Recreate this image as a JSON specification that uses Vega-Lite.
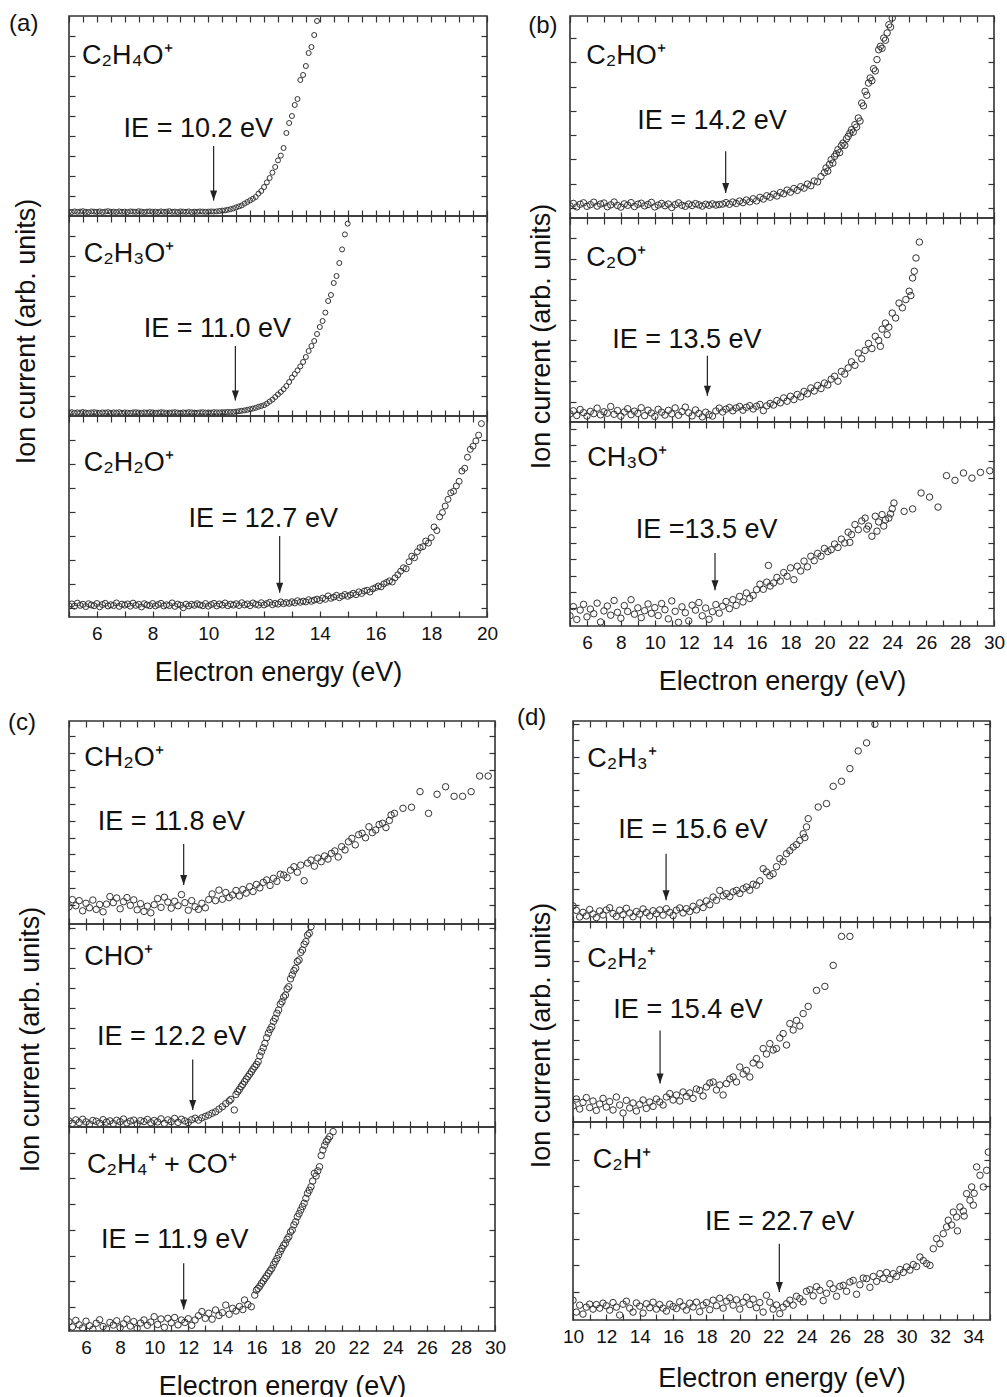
{
"$schema":"https://vega.github.io/schema/vega-lite/v6.json",
"padding":{"left":7,"top":11,"right":0,"bottom":0},
"config":{"font":"Liberation Sans","view":{"stroke":"#333333","strokeWidth":1.6},
"axis":{"domain":false,"grid":false,"ticks":true,"tickColor":"#333333","tickWidth":1.2,"tickSize":-6,"labels":false,"labelFont":"Liberation Sans","labelFontSize":19,"labelColor":"#111111","labelFlush":false,"labelOverlap":false,"labelBound":false,"labelPadding":13,"titleFont":"Liberation Sans","titleFontSize":27,"titleFontWeight":"normal","titleColor":"#111111"}},
"datasets":{
"a1":[{"x":5,"y":2.2},{"x":5.1,"y":2},{"x":5.2,"y":2.3},{"x":5.3,"y":2.1},{"x":5.4,"y":2.2},{"x":5.5,"y":2.4},{"x":5.6,"y":2.1},{"x":5.7,"y":2},{"x":5.8,"y":2.3},{"x":5.9,"y":2.2},{"x":6,"y":2.1},{"x":6.1,"y":2.3},{"x":6.2,"y":2},{"x":6.3,"y":2.2},{"x":6.4,"y":2.4},{"x":6.5,"y":2.1},{"x":6.6,"y":2.2},{"x":6.7,"y":2},{"x":6.8,"y":2.3},{"x":6.9,"y":2.1},{"x":7,"y":2.2},{"x":7.1,"y":2},{"x":7.2,"y":2.3},{"x":7.3,"y":2.2},{"x":7.4,"y":2.1},{"x":7.5,"y":2.4},{"x":7.6,"y":2.2},{"x":7.7,"y":2},{"x":7.8,"y":2.2},{"x":7.9,"y":2.3},{"x":8,"y":2.1},{"x":8.1,"y":2.2},{"x":8.2,"y":2},{"x":8.3,"y":2.3},{"x":8.4,"y":2.1},{"x":8.5,"y":2.2},{"x":8.6,"y":2.4},{"x":8.7,"y":2.1},{"x":8.8,"y":2.2},{"x":8.9,"y":2},{"x":9,"y":2.3},{"x":9.1,"y":2.2},{"x":9.2,"y":2.1},{"x":9.3,"y":2.3},{"x":9.4,"y":2},{"x":9.5,"y":2.2},{"x":9.6,"y":2.1},{"x":9.7,"y":2.3},{"x":9.8,"y":2.2},{"x":9.9,"y":2.1},{"x":10,"y":2.2},{"x":10.1,"y":2.3},{"x":10.2,"y":2.2},{"x":10.3,"y":2.3},{"x":10.4,"y":2.5},{"x":10.5,"y":2.7},{"x":10.6,"y":2.8},{"x":10.7,"y":3.1},{"x":10.8,"y":3.4},{"x":10.9,"y":3.8},{"x":11,"y":4.3},{"x":11.1,"y":4.8},{"x":11.2,"y":5.3},{"x":11.3,"y":6.2},{"x":11.4,"y":7},{"x":11.5,"y":7.8},{"x":11.6,"y":8.6},{"x":11.7,"y":9.5},{"x":11.8,"y":11.2},{"x":11.9,"y":12.5},{"x":12,"y":14.5},{"x":12.1,"y":16.8},{"x":12.2,"y":19},{"x":12.3,"y":21.7},{"x":12.4,"y":24.5},{"x":12.5,"y":27.8},{"x":12.6,"y":30.2},{"x":12.7,"y":34},{"x":12.8,"y":41.5},{"x":12.9,"y":46.5},{"x":13,"y":50},{"x":13.1,"y":55.5},{"x":13.2,"y":58.5},{"x":13.3,"y":68},{"x":13.4,"y":70.5},{"x":13.5,"y":75},{"x":13.6,"y":81.5},{"x":13.7,"y":84.5},{"x":13.8,"y":90.5},{"x":13.9,"y":97.5}],
"a2":[{"x":5,"y":1.7},{"x":5.1,"y":1.9},{"x":5.2,"y":1.6},{"x":5.3,"y":1.8},{"x":5.4,"y":1.7},{"x":5.5,"y":2},{"x":5.6,"y":1.7},{"x":5.7,"y":1.6},{"x":5.8,"y":1.8},{"x":5.9,"y":1.9},{"x":6,"y":1.7},{"x":6.1,"y":1.6},{"x":6.2,"y":1.8},{"x":6.3,"y":1.7},{"x":6.4,"y":1.9},{"x":6.5,"y":1.6},{"x":6.6,"y":1.8},{"x":6.7,"y":1.7},{"x":6.8,"y":1.9},{"x":6.9,"y":1.6},{"x":7,"y":1.8},{"x":7.1,"y":1.7},{"x":7.2,"y":1.6},{"x":7.3,"y":1.8},{"x":7.4,"y":1.9},{"x":7.5,"y":1.7},{"x":7.6,"y":1.6},{"x":7.7,"y":1.8},{"x":7.8,"y":1.7},{"x":7.9,"y":1.9},{"x":8,"y":1.8},{"x":8.1,"y":1.6},{"x":8.2,"y":1.7},{"x":8.3,"y":1.9},{"x":8.4,"y":1.8},{"x":8.5,"y":1.6},{"x":8.6,"y":1.7},{"x":8.7,"y":1.8},{"x":8.8,"y":1.9},{"x":8.9,"y":1.7},{"x":9,"y":1.6},{"x":9.1,"y":1.8},{"x":9.2,"y":1.7},{"x":9.3,"y":1.9},{"x":9.4,"y":1.8},{"x":9.5,"y":1.7},{"x":9.6,"y":1.6},{"x":9.7,"y":1.8},{"x":9.8,"y":1.9},{"x":9.9,"y":1.7},{"x":10,"y":1.8},{"x":10.1,"y":1.7},{"x":10.2,"y":1.9},{"x":10.3,"y":1.8},{"x":10.4,"y":1.8},{"x":10.5,"y":1.9},{"x":10.6,"y":1.9},{"x":10.7,"y":2},{"x":10.8,"y":2},{"x":10.9,"y":2},{"x":11,"y":2.2},{"x":11.1,"y":2.4},{"x":11.2,"y":2.6},{"x":11.3,"y":2.8},{"x":11.4,"y":3.1},{"x":11.5,"y":3.4},{"x":11.6,"y":3.7},{"x":11.7,"y":4.1},{"x":11.8,"y":4.6},{"x":11.9,"y":5},{"x":12,"y":5.4},{"x":12.1,"y":6.2},{"x":12.2,"y":7.2},{"x":12.3,"y":8.2},{"x":12.4,"y":9.5},{"x":12.5,"y":10.8},{"x":12.6,"y":12},{"x":12.7,"y":13.4},{"x":12.8,"y":15},{"x":12.9,"y":17},{"x":13,"y":19.2},{"x":13.1,"y":21},{"x":13.2,"y":22.8},{"x":13.3,"y":24.8},{"x":13.4,"y":27},{"x":13.5,"y":29.5},{"x":13.6,"y":32.5},{"x":13.7,"y":35},{"x":13.8,"y":37.5},{"x":13.9,"y":41},{"x":14,"y":44.5},{"x":14.1,"y":47.5},{"x":14.2,"y":51.7},{"x":14.3,"y":57.5},{"x":14.4,"y":60.5},{"x":14.5,"y":66.5},{"x":14.6,"y":70},{"x":14.7,"y":76.5},{"x":14.8,"y":83.3},{"x":14.9,"y":90.8},{"x":15,"y":96.2}],
"a3":[{"x":5,"y":5.6},{"x":5.1,"y":6.5},{"x":5.2,"y":5.4},{"x":5.3,"y":6.9},{"x":5.4,"y":5.8},{"x":5.5,"y":6.3},{"x":5.6,"y":5.2},{"x":5.7,"y":6.6},{"x":5.8,"y":6},{"x":5.9,"y":5.6},{"x":6,"y":6.7},{"x":6.1,"y":5.1},{"x":6.2,"y":6.2},{"x":6.3,"y":6.8},{"x":6.4,"y":5.5},{"x":6.5,"y":6.1},{"x":6.6,"y":5.7},{"x":6.7,"y":7},{"x":6.8,"y":5.3},{"x":6.9,"y":6.4},{"x":7,"y":5.9},{"x":7.1,"y":6.5},{"x":7.2,"y":5.4},{"x":7.3,"y":6.9},{"x":7.4,"y":5.8},{"x":7.5,"y":6.3},{"x":7.6,"y":5},{"x":7.7,"y":6.6},{"x":7.8,"y":6},{"x":7.9,"y":5.6},{"x":8,"y":6.7},{"x":8.1,"y":5.5},{"x":8.2,"y":6.2},{"x":8.3,"y":6.8},{"x":8.4,"y":5.5},{"x":8.5,"y":6.1},{"x":8.6,"y":5.7},{"x":8.7,"y":7},{"x":8.8,"y":5.3},{"x":8.9,"y":6.4},{"x":9,"y":5.9},{"x":9.1,"y":4.6},{"x":9.2,"y":6.4},{"x":9.3,"y":5.5},{"x":9.4,"y":6.3},{"x":9.5,"y":5.8},{"x":9.6,"y":6.6},{"x":9.7,"y":6},{"x":9.8,"y":5.6},{"x":9.9,"y":6.7},{"x":10,"y":5.4},{"x":10.1,"y":6.2},{"x":10.2,"y":6.8},{"x":10.3,"y":5.5},{"x":10.4,"y":6.5},{"x":10.5,"y":5.9},{"x":10.6,"y":7},{"x":10.7,"y":5.6},{"x":10.8,"y":6.4},{"x":10.9,"y":5.9},{"x":11,"y":6.6},{"x":11.1,"y":5.7},{"x":11.2,"y":7.1},{"x":11.3,"y":6},{"x":11.4,"y":6.5},{"x":11.5,"y":5.6},{"x":11.6,"y":7},{"x":11.7,"y":6.3},{"x":11.8,"y":5.9},{"x":11.9,"y":7.1},{"x":12,"y":6},{"x":12.1,"y":6.7},{"x":12.2,"y":7.3},{"x":12.3,"y":6.1},{"x":12.4,"y":6.8},{"x":12.5,"y":6.4},{"x":12.6,"y":7.5},{"x":12.7,"y":6.6},{"x":12.8,"y":7.2},{"x":12.9,"y":6.8},{"x":13,"y":7.6},{"x":13.1,"y":7},{"x":13.2,"y":8.1},{"x":13.3,"y":7.3},{"x":13.4,"y":7.9},{"x":13.5,"y":7.5},{"x":13.6,"y":8.6},{"x":13.7,"y":7.8},{"x":13.8,"y":8.4},{"x":13.9,"y":8.9},{"x":14,"y":8.2},{"x":14.1,"y":9.4},{"x":14.2,"y":8.8},{"x":14.3,"y":10.5},{"x":14.4,"y":9.3},{"x":14.5,"y":9.9},{"x":14.6,"y":10.8},{"x":14.7,"y":9.6},{"x":14.8,"y":10.4},{"x":14.9,"y":11.2},{"x":15,"y":10.3},{"x":15.1,"y":11},{"x":15.2,"y":11.8},{"x":15.3,"y":11.1},{"x":15.4,"y":12.5},{"x":15.5,"y":11.7},{"x":15.6,"y":12.9},{"x":15.7,"y":13.3},{"x":15.8,"y":12.4},{"x":15.9,"y":14},{"x":16,"y":14.6},{"x":16.1,"y":15.4},{"x":16.2,"y":15},{"x":16.3,"y":16.5},{"x":16.4,"y":17.2},{"x":16.5,"y":18},{"x":16.6,"y":17.4},{"x":16.7,"y":19.5},{"x":16.8,"y":21},{"x":16.9,"y":22.8},{"x":17,"y":24.5},{"x":17.1,"y":24},{"x":17.2,"y":27.5},{"x":17.3,"y":30.3},{"x":17.4,"y":29.5},{"x":17.5,"y":32.5},{"x":17.6,"y":34.5},{"x":17.7,"y":35},{"x":17.8,"y":37.8},{"x":17.9,"y":36.8},{"x":18,"y":39.5},{"x":18.1,"y":44.8},{"x":18.2,"y":43},{"x":18.3,"y":49.8},{"x":18.4,"y":52},{"x":18.5,"y":55.2},{"x":18.6,"y":58.5},{"x":18.7,"y":61.8},{"x":18.8,"y":62.5},{"x":18.9,"y":65.2},{"x":19,"y":67.5},{"x":19.1,"y":72.6},{"x":19.2,"y":74},{"x":19.3,"y":79.5},{"x":19.4,"y":83.4},{"x":19.5,"y":85},{"x":19.6,"y":87.6},{"x":19.7,"y":90.5},{"x":19.8,"y":96.2}],
"b1":[{"x":5,"y":6},{"x":5.2,"y":7.2},{"x":5.4,"y":5.5},{"x":5.6,"y":6.8},{"x":5.8,"y":7.5},{"x":6,"y":5.8},{"x":6.2,"y":6.6},{"x":6.4,"y":7.8},{"x":6.6,"y":5.9},{"x":6.8,"y":6.9},{"x":7,"y":7.4},{"x":7.2,"y":5.6},{"x":7.4,"y":6.5},{"x":7.6,"y":7.9},{"x":7.8,"y":6.2},{"x":8,"y":5.4},{"x":8.2,"y":7},{"x":8.4,"y":6.3},{"x":8.6,"y":7.6},{"x":8.8,"y":5.7},{"x":9,"y":6.8},{"x":9.2,"y":7.3},{"x":9.4,"y":6},{"x":9.6,"y":6.7},{"x":9.8,"y":7.7},{"x":10,"y":5.5},{"x":10.2,"y":6.4},{"x":10.4,"y":7.2},{"x":10.6,"y":6.1},{"x":10.8,"y":6.9},{"x":11,"y":5.2},{"x":11.2,"y":6.6},{"x":11.4,"y":7.5},{"x":11.6,"y":6.3},{"x":11.8,"y":5.8},{"x":12,"y":6.9},{"x":12.2,"y":6.2},{"x":12.4,"y":7.1},{"x":12.6,"y":6.5},{"x":12.8,"y":5.9},{"x":13,"y":6.8},{"x":13.2,"y":6.3},{"x":13.4,"y":7},{"x":13.6,"y":6.4},{"x":13.8,"y":6.7},{"x":14,"y":6.9},{"x":14.2,"y":7.6},{"x":14.4,"y":6.8},{"x":14.6,"y":7.9},{"x":14.8,"y":7.2},{"x":15,"y":8.4},{"x":15.2,"y":7.6},{"x":15.4,"y":8.9},{"x":15.6,"y":8},{"x":15.8,"y":9.5},{"x":16,"y":8.5},{"x":16.2,"y":10.2},{"x":16.4,"y":9.4},{"x":16.6,"y":11},{"x":16.8,"y":10.3},{"x":17,"y":11.8},{"x":17.2,"y":10.9},{"x":17.4,"y":12.6},{"x":17.6,"y":12},{"x":17.8,"y":13.8},{"x":18,"y":12.8},{"x":18.2,"y":14.6},{"x":18.4,"y":13.7},{"x":18.6,"y":15.5},{"x":18.8,"y":14.8},{"x":19,"y":16.8},{"x":19.2,"y":16},{"x":19.4,"y":18.3},{"x":19.6,"y":17.9},{"x":19.8,"y":20.5},{"x":20,"y":22.5},{"x":20.1,"y":24.8},{"x":20.2,"y":23.2},{"x":20.3,"y":26.5},{"x":20.4,"y":28.9},{"x":20.5,"y":27.2},{"x":20.6,"y":30.5},{"x":20.7,"y":31.8},{"x":20.8,"y":33.8},{"x":20.9,"y":32.4},{"x":21,"y":35.8},{"x":21.1,"y":37.1},{"x":21.2,"y":36},{"x":21.3,"y":39.2},{"x":21.4,"y":40.4},{"x":21.5,"y":42},{"x":21.6,"y":43.7},{"x":21.7,"y":42.5},{"x":21.8,"y":46.2},{"x":21.9,"y":45},{"x":22,"y":49.5},{"x":22.1,"y":48},{"x":22.2,"y":56.9},{"x":22.3,"y":55.5},{"x":22.4,"y":62.7},{"x":22.5,"y":60.8},{"x":22.6,"y":66.8},{"x":22.7,"y":69.3},{"x":22.8,"y":68},{"x":22.9,"y":73.9},{"x":23,"y":72.8},{"x":23.1,"y":78.4},{"x":23.2,"y":83.3},{"x":23.3,"y":85},{"x":23.4,"y":84},{"x":23.5,"y":89.1},{"x":23.6,"y":88},{"x":23.7,"y":91.6},{"x":23.8,"y":95.7},{"x":23.9,"y":94.5},{"x":24,"y":99}],
"b2":[{"x":5,"y":4},{"x":5.2,"y":5.5},{"x":5.4,"y":3.2},{"x":5.6,"y":6.1},{"x":5.8,"y":4.6},{"x":6,"y":2.9},{"x":6.2,"y":5.2},{"x":6.4,"y":4.1},{"x":6.6,"y":6.8},{"x":6.8,"y":3.5},{"x":7,"y":5},{"x":7.2,"y":4.3},{"x":7.4,"y":7.6},{"x":7.6,"y":3.8},{"x":7.8,"y":5.6},{"x":8,"y":2.8},{"x":8.2,"y":4.9},{"x":8.4,"y":6.5},{"x":8.6,"y":3.6},{"x":8.8,"y":5.3},{"x":9,"y":4.2},{"x":9.2,"y":7},{"x":9.4,"y":3.1},{"x":9.6,"y":5.8},{"x":9.8,"y":4.4},{"x":10,"y":2.7},{"x":10.2,"y":6.2},{"x":10.4,"y":4.8},{"x":10.6,"y":3.4},{"x":10.8,"y":5.7},{"x":11,"y":4},{"x":11.2,"y":6.9},{"x":11.4,"y":3.3},{"x":11.6,"y":5.1},{"x":11.8,"y":7.3},{"x":12,"y":4.5},{"x":12.2,"y":3},{"x":12.4,"y":5.9},{"x":12.6,"y":4.2},{"x":12.8,"y":2.5},{"x":13,"y":4.8},{"x":13.2,"y":3.6},{"x":13.4,"y":2.9},{"x":13.6,"y":5.4},{"x":13.8,"y":6.8},{"x":14,"y":4.9},{"x":14.2,"y":6.3},{"x":14.4,"y":7.1},{"x":14.6,"y":5.5},{"x":14.8,"y":6.9},{"x":15,"y":7.6},{"x":15.2,"y":5.8},{"x":15.4,"y":7.2},{"x":15.6,"y":8},{"x":15.8,"y":6.4},{"x":16,"y":7.7},{"x":16.2,"y":8.6},{"x":16.4,"y":5.6},{"x":16.6,"y":7.9},{"x":16.8,"y":9.1},{"x":17,"y":8.3},{"x":17.2,"y":10.5},{"x":17.4,"y":9.4},{"x":17.6,"y":11.8},{"x":17.8,"y":10.2},{"x":18,"y":12.6},{"x":18.2,"y":11},{"x":18.4,"y":13.5},{"x":18.6,"y":12.3},{"x":18.8,"y":15},{"x":19,"y":13.8},{"x":19.2,"y":16.7},{"x":19.4,"y":15.2},{"x":19.6,"y":17.9},{"x":19.8,"y":16.4},{"x":20,"y":19.1},{"x":20.2,"y":18.2},{"x":20.4,"y":21},{"x":20.6,"y":22.4},{"x":20.8,"y":20},{"x":21,"y":24.8},{"x":21.2,"y":23.5},{"x":21.4,"y":26.5},{"x":21.6,"y":29.5},{"x":21.8,"y":27.8},{"x":22,"y":33.8},{"x":22.2,"y":31},{"x":22.4,"y":35.1},{"x":22.6,"y":38.5},{"x":22.8,"y":36},{"x":23,"y":42},{"x":23.2,"y":40},{"x":23.3,"y":37.1},{"x":23.4,"y":45.5},{"x":23.6,"y":48.5},{"x":23.7,"y":42.8},{"x":23.8,"y":46.5},{"x":24,"y":53.4},{"x":24.2,"y":51},{"x":24.4,"y":58.3},{"x":24.6,"y":56},{"x":24.8,"y":60},{"x":25,"y":64.1},{"x":25.1,"y":62},{"x":25.2,"y":70.6},{"x":25.3,"y":73.9},{"x":25.4,"y":80.4},{"x":25.6,"y":88.2}],
"b3":[{"x":5,"y":5},{"x":5.2,"y":9.5},{"x":5.4,"y":3.2},{"x":5.6,"y":7.8},{"x":5.8,"y":10.6},{"x":6,"y":4.5},{"x":6.2,"y":8.3},{"x":6.4,"y":6},{"x":6.6,"y":11.2},{"x":6.8,"y":2},{"x":7,"y":7.4},{"x":7.2,"y":9.8},{"x":7.4,"y":5.3},{"x":7.6,"y":12.5},{"x":7.8,"y":6.7},{"x":8,"y":3.8},{"x":8.2,"y":10},{"x":8.4,"y":7.1},{"x":8.6,"y":12.9},{"x":8.8,"y":5.8},{"x":9,"y":8.9},{"x":9.2,"y":4.1},{"x":9.4,"y":7.5},{"x":9.6,"y":10.8},{"x":9.8,"y":6.2},{"x":10,"y":9},{"x":10.2,"y":5.1},{"x":10.4,"y":11},{"x":10.6,"y":8},{"x":10.8,"y":3.5},{"x":11,"y":12.3},{"x":11.2,"y":7.2},{"x":11.4,"y":1.8},{"x":11.6,"y":9.4},{"x":11.8,"y":6.5},{"x":12,"y":2.5},{"x":12.2,"y":10.2},{"x":12.4,"y":7.8},{"x":12.6,"y":11.5},{"x":12.8,"y":5},{"x":13,"y":8.8},{"x":13.2,"y":3.3},{"x":13.4,"y":7},{"x":13.6,"y":10.5},{"x":13.8,"y":6.3},{"x":14,"y":9.7},{"x":14.2,"y":12},{"x":14.4,"y":8.5},{"x":14.6,"y":12.9},{"x":14.8,"y":10.1},{"x":15,"y":14.5},{"x":15.2,"y":11.8},{"x":15.4,"y":16.2},{"x":15.6,"y":13.5},{"x":15.8,"y":15},{"x":16,"y":17.8},{"x":16.2,"y":20.5},{"x":16.4,"y":18},{"x":16.6,"y":21.5},{"x":16.7,"y":29.7},{"x":16.8,"y":19.6},{"x":17,"y":21.1},{"x":17.2,"y":23.8},{"x":17.4,"y":22},{"x":17.6,"y":26.2},{"x":17.8,"y":24.4},{"x":18,"y":28.5},{"x":18.2,"y":22.7},{"x":18.4,"y":29.3},{"x":18.6,"y":27},{"x":18.8,"y":31.8},{"x":19,"y":29},{"x":19.2,"y":34.2},{"x":19.4,"y":32},{"x":19.6,"y":35.6},{"x":19.8,"y":34.2},{"x":20,"y":38},{"x":20.2,"y":36.5},{"x":20.4,"y":37.4},{"x":20.6,"y":40.2},{"x":20.8,"y":38.5},{"x":21,"y":42.6},{"x":21.2,"y":40.7},{"x":21.4,"y":46},{"x":21.5,"y":41},{"x":21.6,"y":44.8},{"x":21.8,"y":49.7},{"x":22,"y":47.2},{"x":22.2,"y":51.5},{"x":22.4,"y":52.9},{"x":22.5,"y":47.5},{"x":22.6,"y":49},{"x":22.8,"y":44},{"x":23,"y":53.8},{"x":23.1,"y":46.5},{"x":23.2,"y":51},{"x":23.4,"y":54.6},{"x":23.5,"y":49},{"x":23.6,"y":52},{"x":23.8,"y":52.9},{"x":23.9,"y":55},{"x":24,"y":57.5},{"x":24.1,"y":60.3},{"x":24.7,"y":56.2},{"x":25.2,"y":57.4},{"x":25.7,"y":65.2},{"x":26.2,"y":63.2},{"x":26.7,"y":58.3},{"x":27.2,"y":73.7},{"x":27.7,"y":71.4},{"x":28.2,"y":75},{"x":28.7,"y":72.5},{"x":29.2,"y":75.3},{"x":29.75,"y":76.1}],
"c1":[{"x":5,"y":8.5},{"x":5.2,"y":12},{"x":5.4,"y":9},{"x":5.6,"y":11.5},{"x":5.8,"y":6.5},{"x":6,"y":10.2},{"x":6.2,"y":8},{"x":6.4,"y":11.8},{"x":6.6,"y":7.2},{"x":6.8,"y":9.6},{"x":7,"y":6},{"x":7.2,"y":9.8},{"x":7.4,"y":13.5},{"x":7.6,"y":10.5},{"x":7.8,"y":12.8},{"x":8,"y":7.5},{"x":8.2,"y":11},{"x":8.4,"y":13},{"x":8.6,"y":9.2},{"x":8.8,"y":11.9},{"x":9,"y":7},{"x":9.2,"y":10},{"x":9.4,"y":6.2},{"x":9.6,"y":8.8},{"x":9.8,"y":5.5},{"x":10,"y":9.5},{"x":10.2,"y":12.5},{"x":10.4,"y":8.2},{"x":10.6,"y":13.2},{"x":10.8,"y":10.8},{"x":11,"y":7.8},{"x":11.2,"y":11.2},{"x":11.4,"y":9},{"x":11.6,"y":14.5},{"x":11.8,"y":10.5},{"x":12,"y":6.8},{"x":12.2,"y":11.5},{"x":12.4,"y":8.5},{"x":12.6,"y":7.2},{"x":12.8,"y":10.2},{"x":13,"y":8},{"x":13.2,"y":12},{"x":13.4,"y":14.8},{"x":13.6,"y":11.5},{"x":13.8,"y":16.7},{"x":14,"y":12.2},{"x":14.2,"y":15.5},{"x":14.4,"y":13},{"x":14.6,"y":14.3},{"x":14.8,"y":16.5},{"x":15,"y":13.8},{"x":15.2,"y":17},{"x":15.4,"y":15.2},{"x":15.6,"y":18.4},{"x":15.8,"y":16},{"x":16,"y":19.5},{"x":16.2,"y":17.8},{"x":16.4,"y":20.5},{"x":16.6,"y":21.7},{"x":16.8,"y":19},{"x":17,"y":22.5},{"x":17.2,"y":21},{"x":17.4,"y":24.5},{"x":17.6,"y":24.1},{"x":17.8,"y":22.8},{"x":18,"y":26.5},{"x":18.2,"y":28.2},{"x":18.4,"y":25.5},{"x":18.6,"y":29},{"x":18.8,"y":21.3},{"x":19,"y":30},{"x":19.2,"y":31.5},{"x":19.4,"y":28.5},{"x":19.6,"y":32.5},{"x":19.8,"y":30.7},{"x":20,"y":33.5},{"x":20.2,"y":32},{"x":20.4,"y":34.8},{"x":20.6,"y":36},{"x":20.8,"y":33},{"x":21,"y":38.1},{"x":21.2,"y":36.5},{"x":21.4,"y":40.5},{"x":21.6,"y":42.2},{"x":21.8,"y":39},{"x":22,"y":44},{"x":22.2,"y":44.7},{"x":22.4,"y":42.5},{"x":22.6,"y":47.9},{"x":22.8,"y":45},{"x":23,"y":46.3},{"x":23.2,"y":49},{"x":23.4,"y":49.6},{"x":23.6,"y":47.5},{"x":23.8,"y":51},{"x":23.9,"y":53.7},{"x":24.1,"y":54.5},{"x":24.6,"y":57},{"x":25.1,"y":57.5},{"x":25.6,"y":65.2},{"x":26.1,"y":54.5},{"x":26.6,"y":63.9},{"x":27.1,"y":67.6},{"x":27.6,"y":62.9},{"x":28.1,"y":62.9},{"x":28.6,"y":65.2},{"x":29.1,"y":72.9},{"x":29.6,"y":72.9}],
"c2":[{"x":5,"y":3},{"x":5.2,"y":1.8},{"x":5.4,"y":3.5},{"x":5.6,"y":2.2},{"x":5.8,"y":3.8},{"x":6,"y":2.5},{"x":6.2,"y":1.5},{"x":6.4,"y":3.2},{"x":6.6,"y":2.8},{"x":6.8,"y":1.9},{"x":7,"y":3.6},{"x":7.2,"y":2.4},{"x":7.4,"y":3},{"x":7.6,"y":1.7},{"x":7.8,"y":3.3},{"x":8,"y":2.6},{"x":8.2,"y":3.9},{"x":8.4,"y":2},{"x":8.6,"y":2.9},{"x":8.8,"y":3.4},{"x":9,"y":1.6},{"x":9.2,"y":3.1},{"x":9.4,"y":2.7},{"x":9.6,"y":3.7},{"x":9.8,"y":2.1},{"x":10,"y":3.2},{"x":10.2,"y":2.5},{"x":10.4,"y":4},{"x":10.6,"y":1.8},{"x":10.8,"y":3.5},{"x":11,"y":2.6},{"x":11.2,"y":4.2},{"x":11.4,"y":2.3},{"x":11.6,"y":3.8},{"x":11.8,"y":3},{"x":12,"y":2.2},{"x":12.2,"y":3.6},{"x":12.4,"y":4.3},{"x":12.6,"y":3.4},{"x":12.8,"y":4.5},{"x":13,"y":5.2},{"x":13.2,"y":5.9},{"x":13.4,"y":6.8},{"x":13.6,"y":7.5},{"x":13.8,"y":8.8},{"x":14,"y":10},{"x":14.2,"y":11.5},{"x":14.4,"y":12.8},{"x":14.5,"y":13.6},{"x":14.7,"y":8.4},{"x":14.8,"y":16},{"x":14.9,"y":17.4},{"x":15,"y":18.5},{"x":15.1,"y":19.9},{"x":15.2,"y":21},{"x":15.3,"y":22.3},{"x":15.4,"y":23.6},{"x":15.5,"y":24.8},{"x":15.6,"y":26},{"x":15.7,"y":27.2},{"x":15.8,"y":28.5},{"x":15.9,"y":29.7},{"x":16,"y":30.8},{"x":16.1,"y":32.2},{"x":16.2,"y":35},{"x":16.3,"y":37.1},{"x":16.4,"y":39},{"x":16.5,"y":41.2},{"x":16.6,"y":44},{"x":16.7,"y":46.2},{"x":16.8,"y":48},{"x":16.9,"y":49.4},{"x":17,"y":52},{"x":17.1,"y":53.5},{"x":17.2,"y":56},{"x":17.3,"y":57.6},{"x":17.4,"y":60.5},{"x":17.5,"y":61.7},{"x":17.6,"y":64},{"x":17.7,"y":65},{"x":17.8,"y":68},{"x":17.9,"y":69.1},{"x":18,"y":73},{"x":18.1,"y":74.9},{"x":18.2,"y":77},{"x":18.3,"y":78.2},{"x":18.4,"y":81.5},{"x":18.5,"y":82.3},{"x":18.6,"y":86},{"x":18.7,"y":87.2},{"x":18.8,"y":90},{"x":18.9,"y":91.3},{"x":19,"y":94.5},{"x":19.1,"y":95.4},{"x":19.2,"y":98.7}],
"c3":[{"x":5,"y":4.5},{"x":5.2,"y":2},{"x":5.4,"y":5.2},{"x":5.6,"y":3},{"x":5.8,"y":1.5},{"x":6,"y":4.8},{"x":6.2,"y":2.6},{"x":6.4,"y":0.8},{"x":6.6,"y":3.8},{"x":6.8,"y":5.5},{"x":7,"y":2.2},{"x":7.2,"y":1},{"x":7.4,"y":4.2},{"x":7.6,"y":2.9},{"x":7.8,"y":5},{"x":8,"y":1.6},{"x":8.2,"y":3.5},{"x":8.4,"y":5.8},{"x":8.6,"y":2.4},{"x":8.8,"y":4.6},{"x":9,"y":1.2},{"x":9.2,"y":3.9},{"x":9.4,"y":5.4},{"x":9.6,"y":2.8},{"x":9.8,"y":4.4},{"x":10,"y":7},{"x":10.2,"y":3.2},{"x":10.4,"y":5.9},{"x":10.6,"y":1.8},{"x":10.8,"y":6.2},{"x":11,"y":4},{"x":11.2,"y":6.6},{"x":11.4,"y":3},{"x":11.6,"y":5.4},{"x":11.8,"y":4.2},{"x":12,"y":6},{"x":12.2,"y":2.8},{"x":12.4,"y":5.4},{"x":12.6,"y":7.5},{"x":12.8,"y":9.5},{"x":13,"y":6.2},{"x":13.2,"y":8.7},{"x":13.4,"y":5.8},{"x":13.6,"y":10.3},{"x":13.8,"y":7.6},{"x":14,"y":9},{"x":14.2,"y":12.7},{"x":14.4,"y":8.2},{"x":14.6,"y":11.1},{"x":14.8,"y":9.8},{"x":15,"y":12},{"x":15.2,"y":10.5},{"x":15.3,"y":15.2},{"x":15.5,"y":13},{"x":15.7,"y":11.9},{"x":15.9,"y":17.6},{"x":16,"y":20},{"x":16.1,"y":20.9},{"x":16.2,"y":22},{"x":16.3,"y":23.4},{"x":16.4,"y":24.5},{"x":16.5,"y":25.8},{"x":16.6,"y":27},{"x":16.7,"y":28.3},{"x":16.8,"y":29.5},{"x":16.9,"y":30.7},{"x":17,"y":32.5},{"x":17.1,"y":34},{"x":17.2,"y":35.5},{"x":17.3,"y":37.3},{"x":17.4,"y":39},{"x":17.5,"y":40.5},{"x":17.6,"y":42},{"x":17.7,"y":43},{"x":17.8,"y":45},{"x":17.9,"y":46.2},{"x":18,"y":48.5},{"x":18.1,"y":49.5},{"x":18.2,"y":52},{"x":18.3,"y":53.5},{"x":18.4,"y":56},{"x":18.5,"y":57.5},{"x":18.6,"y":59.3},{"x":18.7,"y":61},{"x":18.8,"y":62.6},{"x":18.9,"y":65},{"x":19,"y":67.5},{"x":19.1,"y":69},{"x":19.2,"y":70.7},{"x":19.3,"y":73.5},{"x":19.4,"y":77.3},{"x":19.5,"y":76},{"x":19.6,"y":78.5},{"x":19.7,"y":80.5},{"x":19.8,"y":86},{"x":19.9,"y":88.7},{"x":20,"y":91},{"x":20.1,"y":92.8},{"x":20.2,"y":94},{"x":20.3,"y":95.3},{"x":20.5,"y":97.7}],
"d1":[{"x":10,"y":8},{"x":10.2,"y":5.8},{"x":10.4,"y":2.5},{"x":10.6,"y":4.8},{"x":10.8,"y":3},{"x":11,"y":6.2},{"x":11.2,"y":4},{"x":11.4,"y":2.2},{"x":11.6,"y":5.5},{"x":11.8,"y":3.5},{"x":12,"y":6},{"x":12.2,"y":7.1},{"x":12.4,"y":4.2},{"x":12.6,"y":2.8},{"x":12.8,"y":5.9},{"x":13,"y":3.6},{"x":13.2,"y":6.8},{"x":13.4,"y":4.5},{"x":13.6,"y":2.6},{"x":13.8,"y":5.2},{"x":14,"y":3.9},{"x":14.2,"y":6.5},{"x":14.4,"y":4.7},{"x":14.6,"y":3},{"x":14.8,"y":5.6},{"x":15,"y":4.1},{"x":15.2,"y":6},{"x":15.4,"y":3.4},{"x":15.6,"y":6.6},{"x":15.8,"y":4.8},{"x":16,"y":3.2},{"x":16.2,"y":5.9},{"x":16.4,"y":7},{"x":16.6,"y":4.5},{"x":16.8,"y":6.6},{"x":17,"y":5.2},{"x":17.2,"y":7.8},{"x":17.4,"y":6},{"x":17.6,"y":9.5},{"x":17.8,"y":7.2},{"x":18,"y":10.5},{"x":18.2,"y":8.6},{"x":18.4,"y":12.4},{"x":18.6,"y":10.8},{"x":18.8,"y":15.7},{"x":19,"y":13},{"x":19.2,"y":14.1},{"x":19.4,"y":12.6},{"x":19.6,"y":15},{"x":19.8,"y":15.7},{"x":20,"y":14.2},{"x":20.2,"y":16.5},{"x":20.4,"y":17.4},{"x":20.6,"y":15.8},{"x":20.8,"y":18.8},{"x":21,"y":18.3},{"x":21.2,"y":20.5},{"x":21.4,"y":26.5},{"x":21.6,"y":24.9},{"x":21.8,"y":23},{"x":22,"y":24},{"x":22.2,"y":27.5},{"x":22.4,"y":31.5},{"x":22.6,"y":30},{"x":22.8,"y":34},{"x":23,"y":35.5},{"x":23.2,"y":37.3},{"x":23.4,"y":38.5},{"x":23.6,"y":40.6},{"x":23.8,"y":43.9},{"x":23.9,"y":42},{"x":24,"y":47.3},{"x":24.1,"y":51.4},{"x":24.7,"y":57.2},{"x":25.2,"y":58.9},{"x":25.6,"y":67.5},{"x":26.1,"y":70},{"x":26.6,"y":76.3},{"x":27.1,"y":85.1},{"x":27.6,"y":89.1},{"x":28.1,"y":98.4}],
"d2":[{"x":10,"y":8},{"x":10.2,"y":11.5},{"x":10.4,"y":6.5},{"x":10.6,"y":9.8},{"x":10.8,"y":12.2},{"x":11,"y":7.2},{"x":11.2,"y":10.5},{"x":11.4,"y":5.8},{"x":11.6,"y":9},{"x":11.8,"y":11.8},{"x":12,"y":7.5},{"x":12.2,"y":10.2},{"x":12.4,"y":6},{"x":12.6,"y":12.5},{"x":12.8,"y":8.5},{"x":13,"y":4.5},{"x":13.2,"y":10.8},{"x":13.4,"y":7},{"x":13.6,"y":9.5},{"x":13.8,"y":5.5},{"x":14,"y":8.8},{"x":14.2,"y":11},{"x":14.4,"y":6.8},{"x":14.6,"y":10},{"x":14.8,"y":7.8},{"x":15,"y":11.5},{"x":15.2,"y":10},{"x":15.4,"y":8.5},{"x":15.6,"y":12.5},{"x":15.8,"y":14.2},{"x":16,"y":11},{"x":16.2,"y":13.5},{"x":16.4,"y":10.5},{"x":16.6,"y":15},{"x":16.8,"y":12.8},{"x":17,"y":14.5},{"x":17.2,"y":11.8},{"x":17.4,"y":16.5},{"x":17.6,"y":15.8},{"x":17.8,"y":13},{"x":18,"y":17.5},{"x":18.2,"y":19.5},{"x":18.4,"y":20},{"x":18.6,"y":16},{"x":18.8,"y":18.5},{"x":19,"y":13.5},{"x":19.2,"y":19.2},{"x":19.4,"y":21.5},{"x":19.6,"y":22.5},{"x":19.8,"y":20},{"x":20,"y":27.5},{"x":20.2,"y":24},{"x":20.4,"y":25.8},{"x":20.6,"y":22.5},{"x":20.8,"y":29.5},{"x":21,"y":31.7},{"x":21.2,"y":28.5},{"x":21.4,"y":36.7},{"x":21.6,"y":34},{"x":21.8,"y":39.2},{"x":22,"y":36},{"x":22.2,"y":36.7},{"x":22.4,"y":42},{"x":22.6,"y":44.2},{"x":22.8,"y":38.5},{"x":23,"y":49.2},{"x":23.2,"y":46},{"x":23.4,"y":50.8},{"x":23.6,"y":48},{"x":23.8,"y":54.2},{"x":24.1,"y":57.8},{"x":24.6,"y":65.8},{"x":25.1,"y":67.8},{"x":25.6,"y":78.3},{"x":26.1,"y":92.8},{"x":26.6,"y":92.8}],
"d3":[{"x":10,"y":10},{"x":10.2,"y":4},{"x":10.4,"y":7.5},{"x":10.6,"y":3},{"x":10.8,"y":6.5},{"x":11,"y":8},{"x":11.2,"y":5.5},{"x":11.4,"y":7.8},{"x":11.6,"y":6},{"x":11.8,"y":8.5},{"x":12,"y":7.2},{"x":12.2,"y":5},{"x":12.4,"y":8.8},{"x":12.6,"y":6.5},{"x":12.8,"y":2.5},{"x":13,"y":8},{"x":13.2,"y":9.5},{"x":13.4,"y":6},{"x":13.6,"y":4},{"x":13.8,"y":8.6},{"x":14,"y":7},{"x":14.2,"y":3.5},{"x":14.4,"y":8.2},{"x":14.6,"y":6.2},{"x":14.8,"y":9},{"x":15,"y":5.5},{"x":15.2,"y":7.8},{"x":15.4,"y":6},{"x":15.6,"y":4.5},{"x":15.8,"y":8},{"x":16,"y":6.8},{"x":16.2,"y":5.8},{"x":16.4,"y":9.2},{"x":16.6,"y":7},{"x":16.8,"y":5},{"x":17,"y":8.5},{"x":17.2,"y":6.6},{"x":17.4,"y":9},{"x":17.6,"y":4.2},{"x":17.8,"y":7.5},{"x":18,"y":8.8},{"x":18.2,"y":5.2},{"x":18.4,"y":10},{"x":18.6,"y":7.2},{"x":18.8,"y":11},{"x":19,"y":6},{"x":19.2,"y":9.5},{"x":19.4,"y":11.2},{"x":19.6,"y":7.5},{"x":19.8,"y":10.2},{"x":20,"y":5.5},{"x":20.2,"y":9},{"x":20.4,"y":11.5},{"x":20.6,"y":7.8},{"x":20.8,"y":10.5},{"x":21,"y":6.2},{"x":21.2,"y":8.8},{"x":21.4,"y":4},{"x":21.6,"y":12.5},{"x":21.8,"y":9},{"x":22,"y":5.5},{"x":22.2,"y":7.6},{"x":22.4,"y":3.2},{"x":22.6,"y":6.5},{"x":22.8,"y":8.2},{"x":23,"y":10},{"x":23.2,"y":7.5},{"x":23.4,"y":12},{"x":23.6,"y":10.8},{"x":23.8,"y":9.2},{"x":24,"y":14.5},{"x":24.2,"y":15.3},{"x":24.4,"y":12.2},{"x":24.6,"y":16.8},{"x":24.8,"y":15},{"x":25,"y":9.8},{"x":25.2,"y":13.5},{"x":25.4,"y":18.3},{"x":25.6,"y":15.8},{"x":25.8,"y":12},{"x":26,"y":17},{"x":26.2,"y":17.5},{"x":26.4,"y":14.5},{"x":26.6,"y":19.2},{"x":26.8,"y":20},{"x":27,"y":13},{"x":27.2,"y":17.8},{"x":27.4,"y":21.2},{"x":27.6,"y":20.9},{"x":27.8,"y":16.5},{"x":28,"y":22},{"x":28.2,"y":19.5},{"x":28.4,"y":23.4},{"x":28.6,"y":21},{"x":28.8,"y":24},{"x":29,"y":20.5},{"x":29.2,"y":23.4},{"x":29.4,"y":22},{"x":29.6,"y":25.5},{"x":29.8,"y":24},{"x":30,"y":26.8},{"x":30.2,"y":25.2},{"x":30.4,"y":28},{"x":30.6,"y":27},{"x":30.8,"y":31.8},{"x":31,"y":30},{"x":31.2,"y":28.5},{"x":31.4,"y":27.6},{"x":31.6,"y":36},{"x":31.8,"y":41.1},{"x":32,"y":38.5},{"x":32.2,"y":43.6},{"x":32.4,"y":47},{"x":32.5,"y":50.4},{"x":32.7,"y":48},{"x":32.8,"y":54.5},{"x":33,"y":52},{"x":33.05,"y":45},{"x":33.2,"y":57.1},{"x":33.4,"y":55},{"x":33.45,"y":52.5},{"x":33.6,"y":63.8},{"x":33.8,"y":60.5},{"x":33.9,"y":67.2},{"x":34,"y":58},{"x":34.05,"y":64},{"x":34.2,"y":77.3},{"x":34.4,"y":73.1},{"x":34.6,"y":67.2},{"x":34.8,"y":75.6},{"x":34.9,"y":84.8}],
"arr":[{"p":"a1","x":10.19,"y":35,"y2":7.8},{"p":"a2","x":10.97,"y":35,"y2":7.8},{"p":"a3","x":12.56,"y":40.3,"y2":12.1},{"p":"b1","x":14.18,"y":33,"y2":12.4},{"p":"b2","x":13.1,"y":32.5,"y2":12.9},{"p":"b3","x":13.55,"y":35.8,"y2":17.5},{"p":"c1","x":11.73,"y":39.4,"y2":19.2},{"p":"c2","x":12.26,"y":33.3,"y2":8.4},{"p":"c3","x":11.73,"y":33.2,"y2":10.6},{"p":"d1","x":15.58,"y":34,"y2":10.8},{"p":"d2","x":15.22,"y":45.8,"y2":19.2},{"p":"d3","x":22.37,"y":38.5,"y2":14.1}],
"txt":[{"p":"a1","x":6.96,"y":43.3,"t":"IE = 10.2 eV"},{"p":"a1","x":5.47,"y":80,"t":"C₂H₄O⁺"},{"p":"a2","x":7.68,"y":43.3,"t":"IE = 11.0 eV"},{"p":"a2","x":5.53,"y":80.8,"t":"C₂H₃O⁺"},{"p":"a3","x":9.29,"y":48.6,"t":"IE = 12.7 eV"},{"p":"a3","x":5.53,"y":76.8,"t":"C₂H₂O⁺"},{"p":"b1","x":8.97,"y":47.9,"t":"IE = 14.2 eV"},{"p":"b1","x":5.96,"y":80,"t":"C₂HO⁺"},{"p":"b2","x":7.49,"y":40.3,"t":"IE = 13.5 eV"},{"p":"b2","x":5.96,"y":80.4,"t":"C₂O⁺"},{"p":"b3","x":8.87,"y":47.2,"t":"IE =13.5 eV"},{"p":"b3","x":6.02,"y":82.4,"t":"CH₃O⁺"},{"p":"c1","x":6.68,"y":50.4,"t":"IE = 11.8 eV"},{"p":"c1","x":5.9,"y":81.6,"t":"CH₂O⁺"},{"p":"c2","x":6.64,"y":44.5,"t":"IE = 12.2 eV"},{"p":"c2","x":5.9,"y":83.9,"t":"CHO⁺"},{"p":"c3","x":6.88,"y":44.6,"t":"IE = 11.9 eV"},{"p":"c3","x":6.06,"y":81.4,"t":"C₂H₄⁺ + CO⁺"},{"p":"d1","x":12.72,"y":45.6,"t":"IE = 15.6 eV"},{"p":"d1","x":10.86,"y":81.2,"t":"C₂H₃⁺"},{"p":"d2","x":12.42,"y":55.8,"t":"IE = 15.4 eV"},{"p":"d2","x":10.86,"y":81.7,"t":"C₂H₂⁺"},{"p":"d3","x":17.91,"y":49.5,"t":"IE = 22.7 eV"},{"p":"d3","x":11.18,"y":80.7,"t":"C₂H⁺"}],
"lab":[{"p":"a1","x":2.85,"y":96,"t":"(a)"},{"p":"b1","x":2.54,"y":95,"t":"(b)"},{"p":"c1","x":1.42,"y":99,"t":"(c)"},{"p":"d1","x":6.64,"y":101.5,"t":"(d)"}]
},
"vconcat":[
{"hconcat":[
{"vconcat":[
{"width":418,"height":200,"layer":[
{"data":{"name":"a1"},"mark":{"type":"point","shape":"circle","size":25,"strokeWidth":1,"color":"#333333","opacity":1,"clip":true},"encoding":{"x":{"field":"x","type":"quantitative","scale":{"domain":[5,20],"nice":false,"zero":false},"axis":{"orient":"bottom","title":null,"values":[5,5.5,6,6.5,7,7.5,8,8.5,9,9.5,10,10.5,11,11.5,12,12.5,13,13.5,14,14.5,15,15.5,16,16.5,17,17.5,18,18.5,19,19.5,20]}},"y":{"field":"y","type":"quantitative","scale":{"domain":[0,100],"nice":false,"zero":false},"axis":{"orient":"left","title":null,"values":[10,20,30,40,50,60,70,80,90]}}}},
{"data":{"name":"a1"},"mark":{"type":"point","opacity":0},"encoding":{"x":{"field":"x","type":"quantitative","scale":{"domain":[5,20],"nice":false,"zero":false},"axis":{"orient":"top","title":null,"values":[5,5.5,6,6.5,7,7.5,8,8.5,9,9.5,10,10.5,11,11.5,12,12.5,13,13.5,14,14.5,15,15.5,16,16.5,17,17.5,18,18.5,19,19.5,20]}},"y":{"field":"y","type":"quantitative","scale":{"domain":[0,100],"nice":false,"zero":false},"axis":{"orient":"right","title":null,"values":[10,20,30,40,50,60,70,80,90]}}}},
{"data":{"name":"arr"},"transform":[{"filter":"datum.p === 'a1'"}],"mark":{"type":"rule","color":"#222222","strokeWidth":1.2},"encoding":{"x":{"field":"x","type":"quantitative","scale":{"domain":[5,20],"nice":false,"zero":false},"axis":null},"y":{"field":"y","type":"quantitative","scale":{"domain":[0,100],"nice":false,"zero":false},"axis":null},"y2":{"field":"y2"}}},
{"data":{"name":"arr"},"transform":[{"filter":"datum.p === 'a1'"}],"mark":{"type":"point","shape":"M0,0L-0.35,-1L0.35,-1Z","size":400,"filled":true,"color":"#222222","opacity":1,"strokeWidth":0},"encoding":{"x":{"field":"x","type":"quantitative","scale":{"domain":[5,20],"nice":false,"zero":false},"axis":null},"y":{"field":"y2","type":"quantitative","scale":{"domain":[0,100],"nice":false,"zero":false},"axis":null}}},
{"data":{"name":"txt"},"transform":[{"filter":"datum.p === 'a1'"}],"mark":{"type":"text","align":"left","baseline":"middle","fontSize":27,"font":"Liberation Sans","color":"#111111"},"encoding":{"x":{"field":"x","type":"quantitative","scale":{"domain":[5,20],"nice":false,"zero":false},"axis":null},"y":{"field":"y","type":"quantitative","scale":{"domain":[0,100],"nice":false,"zero":false},"axis":null},"text":{"field":"t"}}},
{"data":{"name":"lab"},"transform":[{"filter":"datum.p === 'a1'"}],"mark":{"type":"text","align":"left","baseline":"middle","fontSize":24,"font":"Liberation Sans","color":"#111111"},"encoding":{"x":{"field":"x","type":"quantitative","scale":{"domain":[5,20],"nice":false,"zero":false},"axis":null},"y":{"field":"y","type":"quantitative","scale":{"domain":[0,100],"nice":false,"zero":false},"axis":null},"text":{"field":"t"}}}
],"resolve":{"axis":{"x":"independent","y":"independent"}}},
{"width":418,"height":200,"layer":[
{"data":{"name":"a2"},"mark":{"type":"point","shape":"circle","size":25,"strokeWidth":1,"color":"#333333","opacity":1,"clip":true},"encoding":{"x":{"field":"x","type":"quantitative","scale":{"domain":[5,20],"nice":false,"zero":false},"axis":{"orient":"bottom","title":null,"values":[5,5.5,6,6.5,7,7.5,8,8.5,9,9.5,10,10.5,11,11.5,12,12.5,13,13.5,14,14.5,15,15.5,16,16.5,17,17.5,18,18.5,19,19.5,20]}},"y":{"field":"y","type":"quantitative","scale":{"domain":[0,100],"nice":false,"zero":false},"axis":{"orient":"left","title":"Ion current (arb. units)","titlePadding":28,"titleY":115,"values":[10,20,30,40,50,60,70,80,90]}}}},
{"data":{"name":"a2"},"mark":{"type":"point","opacity":0},"encoding":{"x":{"field":"x","type":"quantitative","scale":{"domain":[5,20],"nice":false,"zero":false},"axis":{"orient":"top","title":null,"values":[5,5.5,6,6.5,7,7.5,8,8.5,9,9.5,10,10.5,11,11.5,12,12.5,13,13.5,14,14.5,15,15.5,16,16.5,17,17.5,18,18.5,19,19.5,20]}},"y":{"field":"y","type":"quantitative","scale":{"domain":[0,100],"nice":false,"zero":false},"axis":{"orient":"right","title":null,"values":[10,20,30,40,50,60,70,80,90]}}}},
{"data":{"name":"arr"},"transform":[{"filter":"datum.p === 'a2'"}],"mark":{"type":"rule","color":"#222222","strokeWidth":1.2},"encoding":{"x":{"field":"x","type":"quantitative","scale":{"domain":[5,20],"nice":false,"zero":false},"axis":null},"y":{"field":"y","type":"quantitative","scale":{"domain":[0,100],"nice":false,"zero":false},"axis":null},"y2":{"field":"y2"}}},
{"data":{"name":"arr"},"transform":[{"filter":"datum.p === 'a2'"}],"mark":{"type":"point","shape":"M0,0L-0.35,-1L0.35,-1Z","size":400,"filled":true,"color":"#222222","opacity":1,"strokeWidth":0},"encoding":{"x":{"field":"x","type":"quantitative","scale":{"domain":[5,20],"nice":false,"zero":false},"axis":null},"y":{"field":"y2","type":"quantitative","scale":{"domain":[0,100],"nice":false,"zero":false},"axis":null}}},
{"data":{"name":"txt"},"transform":[{"filter":"datum.p === 'a2'"}],"mark":{"type":"text","align":"left","baseline":"middle","fontSize":27,"font":"Liberation Sans","color":"#111111"},"encoding":{"x":{"field":"x","type":"quantitative","scale":{"domain":[5,20],"nice":false,"zero":false},"axis":null},"y":{"field":"y","type":"quantitative","scale":{"domain":[0,100],"nice":false,"zero":false},"axis":null},"text":{"field":"t"}}}
],"resolve":{"axis":{"x":"independent","y":"independent"}}},
{"width":418,"height":201,"layer":[
{"data":{"name":"a3"},"mark":{"type":"point","shape":"circle","size":36,"strokeWidth":1,"color":"#333333","opacity":1,"clip":true},"encoding":{"x":{"field":"x","type":"quantitative","scale":{"domain":[5,20],"nice":false,"zero":false},"axis":{"orient":"bottom","title":"Electron energy (eV)","titlePadding":16,"labels":true,"format":"d","labelExpr":"datum.value % 2 === 0 ? datum.label : ''","values":[5,5.5,6,6.5,7,7.5,8,8.5,9,9.5,10,10.5,11,11.5,12,12.5,13,13.5,14,14.5,15,15.5,16,16.5,17,17.5,18,18.5,19,19.5,20]}},"y":{"field":"y","type":"quantitative","scale":{"domain":[0,100],"nice":false,"zero":false},"axis":{"orient":"left","title":null,"values":[4.6,16.5,28.4,40.3,52.2,64.1,76,87.9]}}}},
{"data":{"name":"a3"},"mark":{"type":"point","opacity":0},"encoding":{"x":{"field":"x","type":"quantitative","scale":{"domain":[5,20],"nice":false,"zero":false},"axis":{"orient":"top","title":null,"values":[5,5.5,6,6.5,7,7.5,8,8.5,9,9.5,10,10.5,11,11.5,12,12.5,13,13.5,14,14.5,15,15.5,16,16.5,17,17.5,18,18.5,19,19.5,20]}},"y":{"field":"y","type":"quantitative","scale":{"domain":[0,100],"nice":false,"zero":false},"axis":{"orient":"right","title":null,"values":[4.6,16.5,28.4,40.3,52.2,64.1,76,87.9]}}}},
{"data":{"name":"arr"},"transform":[{"filter":"datum.p === 'a3'"}],"mark":{"type":"rule","color":"#222222","strokeWidth":1.2},"encoding":{"x":{"field":"x","type":"quantitative","scale":{"domain":[5,20],"nice":false,"zero":false},"axis":null},"y":{"field":"y","type":"quantitative","scale":{"domain":[0,100],"nice":false,"zero":false},"axis":null},"y2":{"field":"y2"}}},
{"data":{"name":"arr"},"transform":[{"filter":"datum.p === 'a3'"}],"mark":{"type":"point","shape":"M0,0L-0.35,-1L0.35,-1Z","size":400,"filled":true,"color":"#222222","opacity":1,"strokeWidth":0},"encoding":{"x":{"field":"x","type":"quantitative","scale":{"domain":[5,20],"nice":false,"zero":false},"axis":null},"y":{"field":"y2","type":"quantitative","scale":{"domain":[0,100],"nice":false,"zero":false},"axis":null}}},
{"data":{"name":"txt"},"transform":[{"filter":"datum.p === 'a3'"}],"mark":{"type":"text","align":"left","baseline":"middle","fontSize":27,"font":"Liberation Sans","color":"#111111"},"encoding":{"x":{"field":"x","type":"quantitative","scale":{"domain":[5,20],"nice":false,"zero":false},"axis":null},"y":{"field":"y","type":"quantitative","scale":{"domain":[0,100],"nice":false,"zero":false},"axis":null},"text":{"field":"t"}}}
],"resolve":{"axis":{"x":"independent","y":"independent"}}}
],"spacing":0,"bounds":"flush"},
{"vconcat":[
{"width":424,"height":202,"layer":[
{"data":{"name":"b1"},"mark":{"type":"point","shape":"circle","size":42,"strokeWidth":1,"color":"#333333","opacity":1,"clip":true},"encoding":{"x":{"field":"x","type":"quantitative","scale":{"domain":[5,30],"nice":false,"zero":false},"axis":{"orient":"bottom","title":null,"values":[5,6,7,8,9,10,11,12,13,14,15,16,17,18,19,20,21,22,23,24,25,26,27,28,29,30]}},"y":{"field":"y","type":"quantitative","scale":{"domain":[0,100],"nice":false,"zero":false},"axis":{"orient":"left","title":null,"values":[5,17,29,41,53,65,77,89]}}}},
{"data":{"name":"b1"},"mark":{"type":"point","opacity":0},"encoding":{"x":{"field":"x","type":"quantitative","scale":{"domain":[5,30],"nice":false,"zero":false},"axis":{"orient":"top","title":null,"values":[5,6,7,8,9,10,11,12,13,14,15,16,17,18,19,20,21,22,23,24,25,26,27,28,29,30]}},"y":{"field":"y","type":"quantitative","scale":{"domain":[0,100],"nice":false,"zero":false},"axis":{"orient":"right","title":null,"values":[5,17,29,41,53,65,77,89]}}}},
{"data":{"name":"arr"},"transform":[{"filter":"datum.p === 'b1'"}],"mark":{"type":"rule","color":"#222222","strokeWidth":1.2},"encoding":{"x":{"field":"x","type":"quantitative","scale":{"domain":[5,30],"nice":false,"zero":false},"axis":null},"y":{"field":"y","type":"quantitative","scale":{"domain":[0,100],"nice":false,"zero":false},"axis":null},"y2":{"field":"y2"}}},
{"data":{"name":"arr"},"transform":[{"filter":"datum.p === 'b1'"}],"mark":{"type":"point","shape":"M0,0L-0.35,-1L0.35,-1Z","size":400,"filled":true,"color":"#222222","opacity":1,"strokeWidth":0},"encoding":{"x":{"field":"x","type":"quantitative","scale":{"domain":[5,30],"nice":false,"zero":false},"axis":null},"y":{"field":"y2","type":"quantitative","scale":{"domain":[0,100],"nice":false,"zero":false},"axis":null}}},
{"data":{"name":"txt"},"transform":[{"filter":"datum.p === 'b1'"}],"mark":{"type":"text","align":"left","baseline":"middle","fontSize":27,"font":"Liberation Sans","color":"#111111"},"encoding":{"x":{"field":"x","type":"quantitative","scale":{"domain":[5,30],"nice":false,"zero":false},"axis":null},"y":{"field":"y","type":"quantitative","scale":{"domain":[0,100],"nice":false,"zero":false},"axis":null},"text":{"field":"t"}}},
{"data":{"name":"lab"},"transform":[{"filter":"datum.p === 'b1'"}],"mark":{"type":"text","align":"left","baseline":"middle","fontSize":24,"font":"Liberation Sans","color":"#111111"},"encoding":{"x":{"field":"x","type":"quantitative","scale":{"domain":[5,30],"nice":false,"zero":false},"axis":null},"y":{"field":"y","type":"quantitative","scale":{"domain":[0,100],"nice":false,"zero":false},"axis":null},"text":{"field":"t"}}}
],"resolve":{"axis":{"x":"independent","y":"independent"}}},
{"width":424,"height":204,"layer":[
{"data":{"name":"b2"},"mark":{"type":"point","shape":"circle","size":42,"strokeWidth":1,"color":"#333333","opacity":1,"clip":true},"encoding":{"x":{"field":"x","type":"quantitative","scale":{"domain":[5,30],"nice":false,"zero":false},"axis":{"orient":"bottom","title":null,"values":[5,6,7,8,9,10,11,12,13,14,15,16,17,18,19,20,21,22,23,24,25,26,27,28,29,30]}},"y":{"field":"y","type":"quantitative","scale":{"domain":[0,100],"nice":false,"zero":false},"axis":{"orient":"left","title":"Ion current (arb. units)","titlePadding":14,"titleY":118,"values":[10,20,30,40,50,60,70,80,90]}}}},
{"data":{"name":"b2"},"mark":{"type":"point","opacity":0},"encoding":{"x":{"field":"x","type":"quantitative","scale":{"domain":[5,30],"nice":false,"zero":false},"axis":{"orient":"top","title":null,"values":[5,6,7,8,9,10,11,12,13,14,15,16,17,18,19,20,21,22,23,24,25,26,27,28,29,30]}},"y":{"field":"y","type":"quantitative","scale":{"domain":[0,100],"nice":false,"zero":false},"axis":{"orient":"right","title":null,"values":[10,20,30,40,50,60,70,80,90]}}}},
{"data":{"name":"arr"},"transform":[{"filter":"datum.p === 'b2'"}],"mark":{"type":"rule","color":"#222222","strokeWidth":1.2},"encoding":{"x":{"field":"x","type":"quantitative","scale":{"domain":[5,30],"nice":false,"zero":false},"axis":null},"y":{"field":"y","type":"quantitative","scale":{"domain":[0,100],"nice":false,"zero":false},"axis":null},"y2":{"field":"y2"}}},
{"data":{"name":"arr"},"transform":[{"filter":"datum.p === 'b2'"}],"mark":{"type":"point","shape":"M0,0L-0.35,-1L0.35,-1Z","size":400,"filled":true,"color":"#222222","opacity":1,"strokeWidth":0},"encoding":{"x":{"field":"x","type":"quantitative","scale":{"domain":[5,30],"nice":false,"zero":false},"axis":null},"y":{"field":"y2","type":"quantitative","scale":{"domain":[0,100],"nice":false,"zero":false},"axis":null}}},
{"data":{"name":"txt"},"transform":[{"filter":"datum.p === 'b2'"}],"mark":{"type":"text","align":"left","baseline":"middle","fontSize":27,"font":"Liberation Sans","color":"#111111"},"encoding":{"x":{"field":"x","type":"quantitative","scale":{"domain":[5,30],"nice":false,"zero":false},"axis":null},"y":{"field":"y","type":"quantitative","scale":{"domain":[0,100],"nice":false,"zero":false},"axis":null},"text":{"field":"t"}}}
],"resolve":{"axis":{"x":"independent","y":"independent"}}},
{"width":424,"height":204,"layer":[
{"data":{"name":"b3"},"mark":{"type":"point","shape":"circle","size":42,"strokeWidth":1,"color":"#333333","opacity":1,"clip":true},"encoding":{"x":{"field":"x","type":"quantitative","scale":{"domain":[5,30],"nice":false,"zero":false},"axis":{"orient":"bottom","title":"Electron energy (eV)","titlePadding":16,"labels":true,"labelExpr":"datum.value % 2 === 0 ? datum.label : ''","values":[5,6,7,8,9,10,11,12,13,14,15,16,17,18,19,20,21,22,23,24,25,26,27,28,29,30]}},"y":{"field":"y","type":"quantitative","scale":{"domain":[0,100],"nice":false,"zero":false},"axis":{"orient":"left","title":null,"values":[8.7,16.7,24.7,32.7,40.7,48.7,56.7,64.7,72.7,80.7,88.7,96.7]}}}},
{"data":{"name":"b3"},"mark":{"type":"point","opacity":0},"encoding":{"x":{"field":"x","type":"quantitative","scale":{"domain":[5,30],"nice":false,"zero":false},"axis":{"orient":"top","title":null,"values":[5,6,7,8,9,10,11,12,13,14,15,16,17,18,19,20,21,22,23,24,25,26,27,28,29,30]}},"y":{"field":"y","type":"quantitative","scale":{"domain":[0,100],"nice":false,"zero":false},"axis":{"orient":"right","title":null,"values":[8.7,16.7,24.7,32.7,40.7,48.7,56.7,64.7,72.7,80.7,88.7,96.7]}}}},
{"data":{"name":"arr"},"transform":[{"filter":"datum.p === 'b3'"}],"mark":{"type":"rule","color":"#222222","strokeWidth":1.2},"encoding":{"x":{"field":"x","type":"quantitative","scale":{"domain":[5,30],"nice":false,"zero":false},"axis":null},"y":{"field":"y","type":"quantitative","scale":{"domain":[0,100],"nice":false,"zero":false},"axis":null},"y2":{"field":"y2"}}},
{"data":{"name":"arr"},"transform":[{"filter":"datum.p === 'b3'"}],"mark":{"type":"point","shape":"M0,0L-0.35,-1L0.35,-1Z","size":400,"filled":true,"color":"#222222","opacity":1,"strokeWidth":0},"encoding":{"x":{"field":"x","type":"quantitative","scale":{"domain":[5,30],"nice":false,"zero":false},"axis":null},"y":{"field":"y2","type":"quantitative","scale":{"domain":[0,100],"nice":false,"zero":false},"axis":null}}},
{"data":{"name":"txt"},"transform":[{"filter":"datum.p === 'b3'"}],"mark":{"type":"text","align":"left","baseline":"middle","fontSize":27,"font":"Liberation Sans","color":"#111111"},"encoding":{"x":{"field":"x","type":"quantitative","scale":{"domain":[5,30],"nice":false,"zero":false},"axis":null},"y":{"field":"y","type":"quantitative","scale":{"domain":[0,100],"nice":false,"zero":false},"axis":null},"text":{"field":"t"}}}
],"resolve":{"axis":{"x":"independent","y":"independent"}}}
],"spacing":0,"bounds":"flush"}
],"spacing":27},
{"hconcat":[
{"vconcat":[
{"width":426,"height":203,"layer":[
{"data":{"name":"c1"},"mark":{"type":"point","shape":"circle","size":42,"strokeWidth":1,"color":"#333333","opacity":1,"clip":true},"encoding":{"x":{"field":"x","type":"quantitative","scale":{"domain":[5,30],"nice":false,"zero":false},"axis":{"orient":"bottom","title":null,"values":[5,6,7,8,9,10,11,12,13,14,15,16,17,18,19,20,21,22,23,24,25,26,27,28,29,30]}},"y":{"field":"y","type":"quantitative","scale":{"domain":[0,100],"nice":false,"zero":false},"axis":{"orient":"left","title":null,"values":[9.4,17.7,26,34.3,42.6,50.9,59.2,67.5,75.8,84.1,92.4]}}}},
{"data":{"name":"c1"},"mark":{"type":"point","opacity":0},"encoding":{"x":{"field":"x","type":"quantitative","scale":{"domain":[5,30],"nice":false,"zero":false},"axis":{"orient":"top","title":null,"values":[5,6,7,8,9,10,11,12,13,14,15,16,17,18,19,20,21,22,23,24,25,26,27,28,29,30]}},"y":{"field":"y","type":"quantitative","scale":{"domain":[0,100],"nice":false,"zero":false},"axis":{"orient":"right","title":null,"values":[9.4,17.7,26,34.3,42.6,50.9,59.2,67.5,75.8,84.1,92.4]}}}},
{"data":{"name":"arr"},"transform":[{"filter":"datum.p === 'c1'"}],"mark":{"type":"rule","color":"#222222","strokeWidth":1.2},"encoding":{"x":{"field":"x","type":"quantitative","scale":{"domain":[5,30],"nice":false,"zero":false},"axis":null},"y":{"field":"y","type":"quantitative","scale":{"domain":[0,100],"nice":false,"zero":false},"axis":null},"y2":{"field":"y2"}}},
{"data":{"name":"arr"},"transform":[{"filter":"datum.p === 'c1'"}],"mark":{"type":"point","shape":"M0,0L-0.35,-1L0.35,-1Z","size":400,"filled":true,"color":"#222222","opacity":1,"strokeWidth":0},"encoding":{"x":{"field":"x","type":"quantitative","scale":{"domain":[5,30],"nice":false,"zero":false},"axis":null},"y":{"field":"y2","type":"quantitative","scale":{"domain":[0,100],"nice":false,"zero":false},"axis":null}}},
{"data":{"name":"txt"},"transform":[{"filter":"datum.p === 'c1'"}],"mark":{"type":"text","align":"left","baseline":"middle","fontSize":27,"font":"Liberation Sans","color":"#111111"},"encoding":{"x":{"field":"x","type":"quantitative","scale":{"domain":[5,30],"nice":false,"zero":false},"axis":null},"y":{"field":"y","type":"quantitative","scale":{"domain":[0,100],"nice":false,"zero":false},"axis":null},"text":{"field":"t"}}},
{"data":{"name":"lab"},"transform":[{"filter":"datum.p === 'c1'"}],"mark":{"type":"text","align":"left","baseline":"middle","fontSize":24,"font":"Liberation Sans","color":"#111111"},"encoding":{"x":{"field":"x","type":"quantitative","scale":{"domain":[5,30],"nice":false,"zero":false},"axis":null},"y":{"field":"y","type":"quantitative","scale":{"domain":[0,100],"nice":false,"zero":false},"axis":null},"text":{"field":"t"}}}
],"resolve":{"axis":{"x":"independent","y":"independent"}}},
{"width":426,"height":203,"layer":[
{"data":{"name":"c2"},"mark":{"type":"point","shape":"circle","size":42,"strokeWidth":1,"color":"#333333","opacity":1,"clip":true},"encoding":{"x":{"field":"x","type":"quantitative","scale":{"domain":[5,30],"nice":false,"zero":false},"axis":{"orient":"bottom","title":null,"values":[5,6,7,8,9,10,11,12,13,14,15,16,17,18,19,20,21,22,23,24,25,26,27,28,29,30]}},"y":{"field":"y","type":"quantitative","scale":{"domain":[0,100],"nice":false,"zero":false},"axis":{"orient":"left","title":"Ion current (arb. units)","titlePadding":24,"titleY":115,"values":[9.2,19.05,28.9,38.75,48.6,58.45,68.3,78.15,88,97.85]}}}},
{"data":{"name":"c2"},"mark":{"type":"point","opacity":0},"encoding":{"x":{"field":"x","type":"quantitative","scale":{"domain":[5,30],"nice":false,"zero":false},"axis":{"orient":"top","title":null,"values":[5,6,7,8,9,10,11,12,13,14,15,16,17,18,19,20,21,22,23,24,25,26,27,28,29,30]}},"y":{"field":"y","type":"quantitative","scale":{"domain":[0,100],"nice":false,"zero":false},"axis":{"orient":"right","title":null,"values":[9.2,19.05,28.9,38.75,48.6,58.45,68.3,78.15,88,97.85]}}}},
{"data":{"name":"arr"},"transform":[{"filter":"datum.p === 'c2'"}],"mark":{"type":"rule","color":"#222222","strokeWidth":1.2},"encoding":{"x":{"field":"x","type":"quantitative","scale":{"domain":[5,30],"nice":false,"zero":false},"axis":null},"y":{"field":"y","type":"quantitative","scale":{"domain":[0,100],"nice":false,"zero":false},"axis":null},"y2":{"field":"y2"}}},
{"data":{"name":"arr"},"transform":[{"filter":"datum.p === 'c2'"}],"mark":{"type":"point","shape":"M0,0L-0.35,-1L0.35,-1Z","size":400,"filled":true,"color":"#222222","opacity":1,"strokeWidth":0},"encoding":{"x":{"field":"x","type":"quantitative","scale":{"domain":[5,30],"nice":false,"zero":false},"axis":null},"y":{"field":"y2","type":"quantitative","scale":{"domain":[0,100],"nice":false,"zero":false},"axis":null}}},
{"data":{"name":"txt"},"transform":[{"filter":"datum.p === 'c2'"}],"mark":{"type":"text","align":"left","baseline":"middle","fontSize":27,"font":"Liberation Sans","color":"#111111"},"encoding":{"x":{"field":"x","type":"quantitative","scale":{"domain":[5,30],"nice":false,"zero":false},"axis":null},"y":{"field":"y","type":"quantitative","scale":{"domain":[0,100],"nice":false,"zero":false},"axis":null},"text":{"field":"t"}}}
],"resolve":{"axis":{"x":"independent","y":"independent"}}},
{"width":426,"height":204,"layer":[
{"data":{"name":"c3"},"mark":{"type":"point","shape":"circle","size":42,"strokeWidth":1,"color":"#333333","opacity":1,"clip":true},"encoding":{"x":{"field":"x","type":"quantitative","scale":{"domain":[5,30],"nice":false,"zero":false},"axis":{"orient":"bottom","title":"Electron energy (eV)","titlePadding":16,"labels":true,"labelExpr":"datum.value % 2 === 0 ? datum.label : ''","values":[5,6,7,8,9,10,11,12,13,14,15,16,17,18,19,20,21,22,23,24,25,26,27,28,29,30]}},"y":{"field":"y","type":"quantitative","scale":{"domain":[0,100],"nice":false,"zero":false},"axis":{"orient":"left","title":null,"values":[11.8,24.4,37,49.6,62.2,74.8,87.4]}}}},
{"data":{"name":"c3"},"mark":{"type":"point","opacity":0},"encoding":{"x":{"field":"x","type":"quantitative","scale":{"domain":[5,30],"nice":false,"zero":false},"axis":{"orient":"top","title":null,"values":[5,6,7,8,9,10,11,12,13,14,15,16,17,18,19,20,21,22,23,24,25,26,27,28,29,30]}},"y":{"field":"y","type":"quantitative","scale":{"domain":[0,100],"nice":false,"zero":false},"axis":{"orient":"right","title":null,"values":[11.8,24.4,37,49.6,62.2,74.8,87.4]}}}},
{"data":{"name":"arr"},"transform":[{"filter":"datum.p === 'c3'"}],"mark":{"type":"rule","color":"#222222","strokeWidth":1.2},"encoding":{"x":{"field":"x","type":"quantitative","scale":{"domain":[5,30],"nice":false,"zero":false},"axis":null},"y":{"field":"y","type":"quantitative","scale":{"domain":[0,100],"nice":false,"zero":false},"axis":null},"y2":{"field":"y2"}}},
{"data":{"name":"arr"},"transform":[{"filter":"datum.p === 'c3'"}],"mark":{"type":"point","shape":"M0,0L-0.35,-1L0.35,-1Z","size":400,"filled":true,"color":"#222222","opacity":1,"strokeWidth":0},"encoding":{"x":{"field":"x","type":"quantitative","scale":{"domain":[5,30],"nice":false,"zero":false},"axis":null},"y":{"field":"y2","type":"quantitative","scale":{"domain":[0,100],"nice":false,"zero":false},"axis":null}}},
{"data":{"name":"txt"},"transform":[{"filter":"datum.p === 'c3'"}],"mark":{"type":"text","align":"left","baseline":"middle","fontSize":27,"font":"Liberation Sans","color":"#111111"},"encoding":{"x":{"field":"x","type":"quantitative","scale":{"domain":[5,30],"nice":false,"zero":false},"axis":null},"y":{"field":"y","type":"quantitative","scale":{"domain":[0,100],"nice":false,"zero":false},"axis":null},"text":{"field":"t"}}}
],"resolve":{"axis":{"x":"independent","y":"independent"}}}
],"spacing":0,"bounds":"flush"},
{"vconcat":[
{"width":417,"height":201,"layer":[
{"data":{"name":"d1"},"mark":{"type":"point","shape":"circle","size":42,"strokeWidth":1,"color":"#333333","opacity":1,"clip":true},"encoding":{"x":{"field":"x","type":"quantitative","scale":{"domain":[10,35],"nice":false,"zero":false},"axis":{"orient":"bottom","title":null,"values":[10,11,12,13,14,15,16,17,18,19,20,21,22,23,24,25,26,27,28,29,30,31,32,33,34,35]}},"y":{"field":"y","type":"quantitative","scale":{"domain":[0,100],"nice":false,"zero":false},"axis":{"orient":"left","title":null,"values":[8.3,16.5,24.7,32.9,41.1,49.3,57.5,65.7,73.9,82.1,90.3,98.5]}}}},
{"data":{"name":"d1"},"mark":{"type":"point","opacity":0},"encoding":{"x":{"field":"x","type":"quantitative","scale":{"domain":[10,35],"nice":false,"zero":false},"axis":{"orient":"top","title":null,"values":[10,11,12,13,14,15,16,17,18,19,20,21,22,23,24,25,26,27,28,29,30,31,32,33,34,35]}},"y":{"field":"y","type":"quantitative","scale":{"domain":[0,100],"nice":false,"zero":false},"axis":{"orient":"right","title":null,"values":[8.3,16.5,24.7,32.9,41.1,49.3,57.5,65.7,73.9,82.1,90.3,98.5]}}}},
{"data":{"name":"arr"},"transform":[{"filter":"datum.p === 'd1'"}],"mark":{"type":"rule","color":"#222222","strokeWidth":1.2},"encoding":{"x":{"field":"x","type":"quantitative","scale":{"domain":[10,35],"nice":false,"zero":false},"axis":null},"y":{"field":"y","type":"quantitative","scale":{"domain":[0,100],"nice":false,"zero":false},"axis":null},"y2":{"field":"y2"}}},
{"data":{"name":"arr"},"transform":[{"filter":"datum.p === 'd1'"}],"mark":{"type":"point","shape":"M0,0L-0.35,-1L0.35,-1Z","size":400,"filled":true,"color":"#222222","opacity":1,"strokeWidth":0},"encoding":{"x":{"field":"x","type":"quantitative","scale":{"domain":[10,35],"nice":false,"zero":false},"axis":null},"y":{"field":"y2","type":"quantitative","scale":{"domain":[0,100],"nice":false,"zero":false},"axis":null}}},
{"data":{"name":"txt"},"transform":[{"filter":"datum.p === 'd1'"}],"mark":{"type":"text","align":"left","baseline":"middle","fontSize":27,"font":"Liberation Sans","color":"#111111"},"encoding":{"x":{"field":"x","type":"quantitative","scale":{"domain":[10,35],"nice":false,"zero":false},"axis":null},"y":{"field":"y","type":"quantitative","scale":{"domain":[0,100],"nice":false,"zero":false},"axis":null},"text":{"field":"t"}}},
{"data":{"name":"lab"},"transform":[{"filter":"datum.p === 'd1'"}],"mark":{"type":"text","align":"left","baseline":"middle","fontSize":24,"font":"Liberation Sans","color":"#111111"},"encoding":{"x":{"field":"x","type":"quantitative","scale":{"domain":[10,35],"nice":false,"zero":false},"axis":null},"y":{"field":"y","type":"quantitative","scale":{"domain":[0,100],"nice":false,"zero":false},"axis":null},"text":{"field":"t"}}}
],"resolve":{"axis":{"x":"independent","y":"independent"}}},
{"width":417,"height":200,"layer":[
{"data":{"name":"d2"},"mark":{"type":"point","shape":"circle","size":42,"strokeWidth":1,"color":"#333333","opacity":1,"clip":true},"encoding":{"x":{"field":"x","type":"quantitative","scale":{"domain":[10,35],"nice":false,"zero":false},"axis":{"orient":"bottom","title":null,"values":[10,11,12,13,14,15,16,17,18,19,20,21,22,23,24,25,26,27,28,29,30,31,32,33,34,35]}},"y":{"field":"y","type":"quantitative","scale":{"domain":[0,100],"nice":false,"zero":false},"axis":{"orient":"left","title":"Ion current (arb. units)","titlePadding":17,"titleY":113,"values":[11.65,21.5,31.35,41.2,51.05,60.9,70.75,80.6,90.45]}}}},
{"data":{"name":"d2"},"mark":{"type":"point","opacity":0},"encoding":{"x":{"field":"x","type":"quantitative","scale":{"domain":[10,35],"nice":false,"zero":false},"axis":{"orient":"top","title":null,"values":[10,11,12,13,14,15,16,17,18,19,20,21,22,23,24,25,26,27,28,29,30,31,32,33,34,35]}},"y":{"field":"y","type":"quantitative","scale":{"domain":[0,100],"nice":false,"zero":false},"axis":{"orient":"right","title":null,"values":[11.65,21.5,31.35,41.2,51.05,60.9,70.75,80.6,90.45]}}}},
{"data":{"name":"arr"},"transform":[{"filter":"datum.p === 'd2'"}],"mark":{"type":"rule","color":"#222222","strokeWidth":1.2},"encoding":{"x":{"field":"x","type":"quantitative","scale":{"domain":[10,35],"nice":false,"zero":false},"axis":null},"y":{"field":"y","type":"quantitative","scale":{"domain":[0,100],"nice":false,"zero":false},"axis":null},"y2":{"field":"y2"}}},
{"data":{"name":"arr"},"transform":[{"filter":"datum.p === 'd2'"}],"mark":{"type":"point","shape":"M0,0L-0.35,-1L0.35,-1Z","size":400,"filled":true,"color":"#222222","opacity":1,"strokeWidth":0},"encoding":{"x":{"field":"x","type":"quantitative","scale":{"domain":[10,35],"nice":false,"zero":false},"axis":null},"y":{"field":"y2","type":"quantitative","scale":{"domain":[0,100],"nice":false,"zero":false},"axis":null}}},
{"data":{"name":"txt"},"transform":[{"filter":"datum.p === 'd2'"}],"mark":{"type":"text","align":"left","baseline":"middle","fontSize":27,"font":"Liberation Sans","color":"#111111"},"encoding":{"x":{"field":"x","type":"quantitative","scale":{"domain":[10,35],"nice":false,"zero":false},"axis":null},"y":{"field":"y","type":"quantitative","scale":{"domain":[0,100],"nice":false,"zero":false},"axis":null},"text":{"field":"t"}}}
],"resolve":{"axis":{"x":"independent","y":"independent"}}},
{"width":417,"height":198,"layer":[
{"data":{"name":"d3"},"mark":{"type":"point","shape":"circle","size":42,"strokeWidth":1,"color":"#333333","opacity":1,"clip":true},"encoding":{"x":{"field":"x","type":"quantitative","scale":{"domain":[10,35],"nice":false,"zero":false},"axis":{"orient":"bottom","title":"Electron energy (eV)","titlePadding":19,"labels":true,"labelExpr":"datum.value % 2 === 0 ? datum.label : ''","values":[10,11,12,13,14,15,16,17,18,19,20,21,22,23,24,25,26,27,28,29,30,31,32,33,34,35]}},"y":{"field":"y","type":"quantitative","scale":{"domain":[0,100],"nice":false,"zero":false},"axis":{"orient":"left","title":null,"values":[14.3,27.6,40.9,54.2,67.5,80.8,94.1]}}}},
{"data":{"name":"d3"},"mark":{"type":"point","opacity":0},"encoding":{"x":{"field":"x","type":"quantitative","scale":{"domain":[10,35],"nice":false,"zero":false},"axis":{"orient":"top","title":null,"values":[10,11,12,13,14,15,16,17,18,19,20,21,22,23,24,25,26,27,28,29,30,31,32,33,34,35]}},"y":{"field":"y","type":"quantitative","scale":{"domain":[0,100],"nice":false,"zero":false},"axis":{"orient":"right","title":null,"values":[14.3,27.6,40.9,54.2,67.5,80.8,94.1]}}}},
{"data":{"name":"arr"},"transform":[{"filter":"datum.p === 'd3'"}],"mark":{"type":"rule","color":"#222222","strokeWidth":1.2},"encoding":{"x":{"field":"x","type":"quantitative","scale":{"domain":[10,35],"nice":false,"zero":false},"axis":null},"y":{"field":"y","type":"quantitative","scale":{"domain":[0,100],"nice":false,"zero":false},"axis":null},"y2":{"field":"y2"}}},
{"data":{"name":"arr"},"transform":[{"filter":"datum.p === 'd3'"}],"mark":{"type":"point","shape":"M0,0L-0.35,-1L0.35,-1Z","size":400,"filled":true,"color":"#222222","opacity":1,"strokeWidth":0},"encoding":{"x":{"field":"x","type":"quantitative","scale":{"domain":[10,35],"nice":false,"zero":false},"axis":null},"y":{"field":"y2","type":"quantitative","scale":{"domain":[0,100],"nice":false,"zero":false},"axis":null}}},
{"data":{"name":"txt"},"transform":[{"filter":"datum.p === 'd3'"}],"mark":{"type":"text","align":"left","baseline":"middle","fontSize":27,"font":"Liberation Sans","color":"#111111"},"encoding":{"x":{"field":"x","type":"quantitative","scale":{"domain":[10,35],"nice":false,"zero":false},"axis":null},"y":{"field":"y","type":"quantitative","scale":{"domain":[0,100],"nice":false,"zero":false},"axis":null},"text":{"field":"t"}}}
],"resolve":{"axis":{"x":"independent","y":"independent"}}}
],"spacing":0,"bounds":"flush"}
],"spacing":9}
],"spacing":10}
